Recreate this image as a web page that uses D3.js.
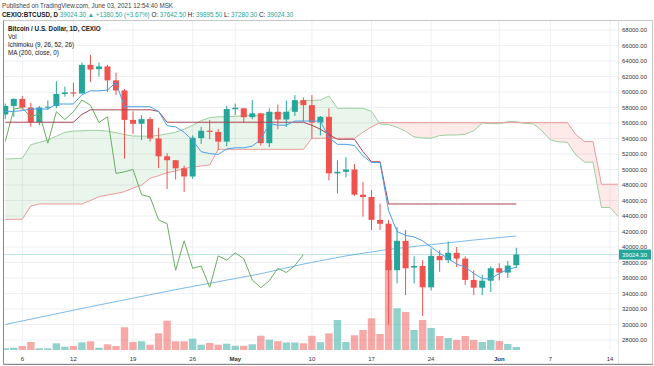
<!DOCTYPE html>
<html>
<head>
<meta charset="utf-8">
<script src="https://cdnjs.cloudflare.com/ajax/libs/d3/7.8.5/d3.min.js"></script>
<style>
body { margin: 0; background: #fff; }
svg { display: block; font-family: "Liberation Sans", Arial, sans-serif; }
.grid line { stroke: #eef0f4; stroke-width: 1; }
.axis-label { font-size: 6px; fill: #333; }
.legend { font-size: 6.3px; fill: #131722; }
</style>
</head>
<body>
<svg id="chart" width="654" height="366"></svg>
<script>
var DAY = 864e5;
var firstDay = Date.UTC(2021, 3, 4);   // Apr 4, 2021

// daily candles, Apr 4 .. Jun 3
var opens = [57100,58200,59100,58000,56100,58000,58200,59750,59950,59800,63500,62950,63300,61500,60200,56400,
  55900,56500,54000,51700,51200,50150,49100,54050,55000,54850,53600,57780,57900,56750,57250,53400,57450,56450,
  57450,58950,58300,56050,56800,49500,49700,50000,46750,46450,43500,43000,37000,40800,37350,37550,34800,38850,
  38300,39250,38500,35750,34750,35650,37250,36700,37642.5];
var highs = [58500,59200,59500,58600,58200,58900,61400,60700,61200,63800,64800,63800,63500,62500,60400,57500,
  57000,56800,55400,52100,51200,50500,54400,55500,56400,55200,58200,58500,57900,58950,57250,57900,58400,58900,
  59600,59300,59600,56900,57900,51200,51600,50700,48400,47350,45600,43500,42600,42200,38800,38300,39800,39600,
  40700,40000,38800,37000,36400,37500,37900,38200,39895.5];
var lows = [56500,56800,57700,55500,55700,57700,57900,59400,59400,59800,61300,62000,60000,59600,51400,54600,
  53800,53600,50200,47500,48700,47100,48800,53300,53900,52500,53000,57000,56000,56500,53100,52900,55200,55500,
  56900,56200,54000,54400,48600,46900,49000,46600,43900,42200,42200,30000,35300,33800,35300,31100,34400,36800,
  37900,37400,35100,33800,33800,34200,35700,36000,37280.3];
var closes = [58200,59100,58000,56100,58000,58100,59750,59950,59800,63500,62900,63300,61500,60200,56400,55900,
  56500,54000,51700,51200,50150,49100,54100,55000,54850,53600,57800,57970,56750,57250,53400,57450,56450,57450,
  58950,58300,56050,56800,49500,49700,50000,46750,46450,43500,43000,37000,40800,37250,37550,34800,38850,38300,
  39250,38500,35750,34750,35650,37250,36700,37600,39024.3];
var volumes = [170,230,400,800,170,170,670,330,400,770,870,230,570,400,2270,800,870,530,1670,2930,870,870,1130,
  530,700,530,630,420,420,570,1430,1030,880,750,750,670,1420,780,1670,3000,800,1470,2000,3170,1600,9000,4170,
  3800,2000,3000,2200,1400,1200,1000,1400,1000,800,1000,900,600,300];

// Ichimoku (9, 26, 52, 26)
var tenkan = [57500,57500,57600,57800,57800,57800,58450,58450,58450,59650,60150,60150,60250,61250,58100,58100,
  58100,58100,57500,55650,55500,54800,53750,52300,52050,51950,52650,52800,52800,53025,53875,55925,55725,55725,
  56250,56250,56250,56250,54100,53250,53250,53100,51750,50900,50900,44700,42000,41500,41300,40800,40000,39200,
  38500,37800,37400,36600,35900,35900,36600,37100,37400];
var kijun = [56100,56100,56100,56100,56100,56100,56100,56100,56100,57100,57700,57700,57700,57700,57700,57700,
  57700,57700,57500,56100,56100,56100,56100,56100,56100,56100,56100,56100,56100,56100,56100,56100,56100,56100,
  56100,56100,55700,55200,54500,53900,53900,53900,52300,51000,51000,45550,45550,45550,45550,45550,45550,45550,
  45550,45550,45550,45550,45550,45550,45550,45550,45550];
// leading spans, Apr 4 .. Jun 15
var spanA = [51350,51400,51440,53200,53500,53800,54300,54800,54950,55000,55050,55050,54950,54750,54500,54320,
  54300,54300,54400,54600,54800,55200,55700,56300,56700,56800,56800,56850,56950,56950,56950,57275,57275,57275,
  58375,58925,58925,58975,59475,57900,57900,57900,57900,57500,55875,55800,55450,54925,54200,54075,54025,54375,
  54450,54450,54560,54990,56010,55910,55910,56175,56175,55925,55900,55000,53800,53575,53500,51875,50950,50950,
  45100,45100,43900];
var spanB = [43570,43570,43570,45300,45550,45550,45550,45550,45550,45550,46000,46490,46700,46900,47140,47600,
  48000,48860,49200,49590,49800,50150,50300,50450,50580,52600,52600,52600,52600,52600,52600,52600,52600,52600,
  52600,52600,54030,54030,54030,54030,54030,54030,54800,55500,56050,56050,56050,56050,56050,56050,56050,56050,
  56050,56050,56050,56050,56050,56050,56050,56050,56050,56050,56050,56050,56050,56050,56050,54500,53600,53600,
  48100,48100,48100];
var lagShift = 25;

// MA (200, close) read at a few dates
var maDates = ["2021-04-04","2021-04-14","2021-04-24","2021-05-04","2021-05-09","2021-05-14","2021-05-19",
  "2021-05-24","2021-05-29","2021-06-03"];
var maValues = [30000,32300,34500,36550,37800,38850,39700,40300,40900,41420];

var tickDates = ["2021-04-06","2021-04-12","2021-04-19","2021-04-26","2021-05-01","2021-05-10","2021-05-17",
  "2021-05-24","2021-06-01","2021-06-07","2021-06-14"];
var tickLabels = ["6","12","19","26","May","10","17","24","Jun","7","14"];
var priceTicks = [28000,30000,32000,34000,36000,38000,40000,42000,44000,46000,48000,50000,52000,54000,
  56000,58000,60000,62000,64000,66000,68000];
var lastPrice = 39024.3;

var up = "#26a69a", down = "#ef5350";

function dayDate(i) { return new Date(firstDay + i * DAY); }
function parseDay(s) { return new Date(s + "T00:00:00Z"); }

var plot = {left: 4, right: 618, top: 20, bottom: 350};
var svg = d3.select("#chart");

var x = d3.scaleUtc()
  .domain([new Date(Date.UTC(2021, 3, 6) - 2.149 * DAY), new Date(Date.UTC(2021, 5, 14) + 0.939 * DAY)])
  .range([plot.left, plot.right]);
var y = d3.scaleLinear().domain([28000, 68000]).range([340, 30]);
var yVol = d3.scaleLinear().domain([0, 10000]).range([plot.bottom, plot.bottom - 100]);

var candles = opens.map(function(o, i) {
  return {date: dayDate(i), o: o, h: highs[i], l: lows[i], c: closes[i], v: volumes[i]};
});

var defs = svg.append("defs");
defs.append("clipPath").attr("id", "plot-clip").append("rect")
  .attr("x", plot.left).attr("y", plot.top)
  .attr("width", plot.right - plot.left).attr("height", plot.bottom - plot.top);

// header
svg.append("text").attr("x", 2).attr("y", 8).style("font-size", "6.3px").style("fill", "#444")
  .text("Published on TradingView.com, June 03, 2021 12:54:40 MSK");
var head = svg.append("text").attr("x", 2).attr("y", 16.5).style("font-size", "6.3px").style("fill", "#131722");
head.append("tspan").style("font-weight", "bold").text("CEXIO:BTCUSD, D ");
head.append("tspan").style("fill", up).text("39024.30 \u25B2 +1380.50 (+3.67%) ");
[["O: ", "37642.50 "], ["H: ", "39895.50 "], ["L: ", "37280.30 "], ["C: ", "39024.30"]].forEach(function(p) {
  head.append("tspan").text(p[0]);
  head.append("tspan").style("fill", up).text(p[1]);
});

// grid
var grid = svg.append("g").attr("class", "grid");
grid.selectAll(".vg").data(tickDates).enter().append("line")
  .attr("x1", function(d) { return x(parseDay(d)); }).attr("x2", function(d) { return x(parseDay(d)); })
  .attr("y1", plot.top).attr("y2", plot.bottom);
grid.selectAll(".hg").data(priceTicks).enter().append("line")
  .attr("x1", plot.left).attr("x2", plot.right)
  .attr("y1", function(d) { return y(d); }).attr("y2", function(d) { return y(d); });

var g = svg.append("g").attr("clip-path", "url(#plot-clip)");

// volume
g.append("g").selectAll("rect").data(candles).enter().append("rect")
  .attr("x", function(d) { return x(d.date) - 3.7; })
  .attr("width", 7.4)
  .attr("y", function(d) { return yVol(d.v); })
  .attr("height", function(d) { return yVol(0) - yVol(d.v); })
  .attr("fill", function(d) { return d.c >= d.o ? up : down; })
  .attr("fill-opacity", 0.5);

// cloud
var cloud = spanA.map(function(a, i) { return {date: dayDate(i), a: a, b: spanB[i]}; });
defs.append("clipPath").attr("id", "below-a").append("path")
  .attr("d", d3.area().x(function(d) { return x(d.date); }).y0(function(d) { return y(d.a); }).y1(plot.bottom)(cloud));
defs.append("clipPath").attr("id", "below-b").append("path")
  .attr("d", d3.area().x(function(d) { return x(d.date); }).y0(function(d) { return y(d.b); }).y1(plot.bottom)(cloud));
g.append("path")
  .attr("d", d3.area().x(function(d) { return x(d.date); }).y0(plot.top).y1(function(d) { return y(d.b); })(cloud))
  .attr("fill", "#43a047").attr("fill-opacity", 0.11).attr("clip-path", "url(#below-a)");
g.append("path")
  .attr("d", d3.area().x(function(d) { return x(d.date); }).y0(plot.top).y1(function(d) { return y(d.a); })(cloud))
  .attr("fill", "#f44336").attr("fill-opacity", 0.11).attr("clip-path", "url(#below-b)");

function drawLine(data, xf, yf, color, width) {
  g.append("path").datum(data)
    .attr("d", d3.line().x(xf).y(yf))
    .attr("fill", "none").attr("stroke", color).attr("stroke-width", width || 1);
}
drawLine(cloud, function(d) { return x(d.date); }, function(d) { return y(d.a); }, "#9ccf9e");
drawLine(cloud, function(d) { return x(d.date); }, function(d) { return y(d.b); }, "#ec9a9a");

// MA 200
drawLine(maDates, function(d) { return x(parseDay(d)); }, function(d, i) { return y(maValues[i]); }, "#7dbbea");

// price line
g.append("line").attr("x1", plot.left).attr("x2", plot.right)
  .attr("y1", y(lastPrice)).attr("y2", y(lastPrice))
  .attr("stroke", up).attr("stroke-opacity", 0.3);

// candles
var cg = g.append("g").selectAll("g").data(candles).enter().append("g");
cg.append("line")
  .attr("x1", function(d) { return x(d.date); }).attr("x2", function(d) { return x(d.date); })
  .attr("y1", function(d) { return y(d.h); }).attr("y2", function(d) { return y(d.l); })
  .attr("stroke", function(d) { return d.c >= d.o ? up : down; });
cg.append("rect")
  .attr("x", function(d) { return x(d.date) - 3; })
  .attr("width", 6)
  .attr("y", function(d) { return y(Math.max(d.o, d.c)); })
  .attr("height", function(d) { return Math.max(1, Math.abs(y(d.o) - y(d.c))); })
  .attr("fill", function(d) { return d.c >= d.o ? up : down; });

// lagging span, kijun, tenkan
var lag = closes.slice(lagShift).map(function(c, i) { return {date: dayDate(i), v: c}; });
drawLine(lag, function(d) { return x(d.date); }, function(d) { return y(d.v); }, "#6aae62");
drawLine(kijun, function(d, i) { return x(dayDate(i)); }, function(d) { return y(d); }, "#a8464f");
drawLine(tenkan, function(d, i) { return x(dayDate(i)); }, function(d) { return y(d); }, "#4a9fe8");

// legend
["Bitcoin / U.S. Dollar, 1D, CEXIO", "Vol", "Ichimoku (9, 26, 52, 26)", "MA (200, close, 0)"].forEach(function(t, i) {
  svg.append("text").attr("class", "legend").attr("x", 8).attr("y", 30.5 + i * 8)
    .style("font-weight", i === 0 ? "bold" : "normal").text(t);
});

// price axis
svg.append("line").attr("x1", plot.right + 0.5).attr("x2", plot.right + 0.5)
  .attr("y1", plot.top).attr("y2", 364).attr("stroke", "#e6e6e6");
svg.append("g").selectAll("text").data(priceTicks).enter().append("text")
  .attr("class", "axis-label").attr("x", 622).attr("y", function(d) { return y(d); })
  .attr("dy", "0.35em").text(function(d) { return d3.format(".2f")(d); });
svg.append("rect").attr("x", 619).attr("y", y(lastPrice) - 5).attr("width", 32).attr("height", 10)
  .attr("fill", up);
svg.append("text").attr("class", "axis-label").attr("x", 622).attr("y", y(lastPrice)).attr("dy", "0.35em")
  .style("fill", "#fff").text(d3.format(".2f")(lastPrice));

// time axis
svg.append("g").selectAll("text").data(tickDates).enter().append("text")
  .attr("class", "axis-label").attr("x", function(d) { return x(parseDay(d)); }).attr("y", 360.5)
  .attr("text-anchor", "middle")
  .style("font-weight", function(d, i) { return isNaN(+tickLabels[i]) ? "bold" : "normal"; })
  .text(function(d, i) { return tickLabels[i]; });

// frame
svg.append("rect").attr("x", 3.5).attr("y", 20.5).attr("width", 649).attr("height", 343.5)
  .attr("fill", "none").attr("stroke", "#c8c8c8");
svg.append("path").attr("d", "M3.5,20.5V364.5H653")
  .attr("fill", "none").attr("stroke", "#8a8a8a");
</script>
</body>
</html>
